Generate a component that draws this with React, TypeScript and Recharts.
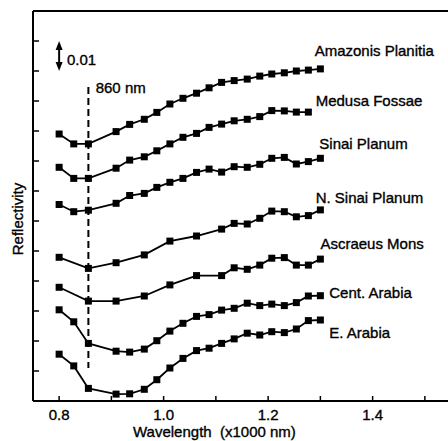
import { LineChart, Line, XAxis, YAxis, ReferenceLine, ReferenceDot, Label } from "recharts";

// wavelength in units of 1000 nm
const wavelengths = [0.8, 0.828, 0.856, 0.909, 0.935, 0.963, 0.987, 1.012, 1.037, 1.063, 1.087, 1.111, 1.135, 1.16, 1.184, 1.207, 1.231, 1.254, 1.277, 1.3];

// reflectivity (curves offset for clarity), null = no sample
const amazonis = [0.089, 0.0857, 0.0857, 0.0898, 0.0922, 0.0939, 0.0962, 0.099, 0.1009, 0.1026, 0.1044, 0.1062, 0.1068, 0.1073, 0.1083, 0.109, 0.1094, 0.11, 0.1103, 0.1107];
const medusa = [0.0779, 0.0742, 0.0742, 0.0776, 0.0803, 0.0814, 0.0834, 0.0857, 0.0879, 0.0892, 0.0912, 0.0923, 0.0934, 0.0939, 0.0948, 0.0968, 0.0967, 0.0963, 0.0963, null];
const sinai = [0.0655, 0.0631, 0.0636, 0.0659, 0.0685, 0.0692, 0.0712, 0.0729, 0.0742, 0.0762, 0.0773, 0.0763, 0.0781, 0.0779, 0.0789, 0.0809, 0.0812, 0.079, 0.0798, 0.0809];
const nSinai = [0.0479, null, 0.0442, 0.0461, null, 0.0487, null, 0.0533, null, 0.055, null, 0.0573, 0.0592, 0.059, 0.0609, 0.0633, 0.0631, 0.0614, 0.0618, 0.0637];
const ascraeus = [0.0379, null, 0.0333, 0.0333, null, 0.035, null, 0.0387, null, 0.0418, null, 0.0418, 0.0444, 0.0439, 0.0453, 0.0476, 0.0478, 0.0453, 0.0453, 0.0473];
const centArabia = [0.0304, 0.0264, 0.0192, 0.0166, 0.0163, 0.0173, 0.0201, 0.0233, 0.0259, 0.0282, 0.0288, 0.0303, 0.0309, 0.0326, 0.0318, 0.0323, 0.0318, 0.0328, 0.035, 0.0351];
const eArabia = [0.0156, 0.0117, 0.0042, 0.0023, 0.0024, 0.0039, 0.0071, 0.011, 0.0142, 0.0168, 0.0176, 0.0192, 0.0207, 0.0226, 0.022, 0.0231, 0.0228, 0.024, 0.0268, 0.027];

const seriesKeys = ["amazonis", "medusa", "sinai", "nSinai", "ascraeus", "centArabia", "eArabia"];
const seriesNames = ["Amazonis Planitia", "Medusa Fossae", "Sinai Planum", "N. Sinai Planum", "Ascraeus Mons", "Cent. Arabia", "E. Arabia"];
const seriesValues = [amazonis, medusa, sinai, nSinai, ascraeus, centArabia, eArabia];

const xTicks = [0.8, 0.9, 1.0, 1.1, 1.2, 1.3, 1.4, 1.5];
const xTickLabels = ["0.8", "1.0", "1.2", "1.4"];
const yTicks = [0.01, 0.02, 0.03, 0.04, 0.05, 0.06, 0.07, 0.08, 0.09, 0.1, 0.11, 0.12, 0.13];

// where each name sits, in data coordinates
const nameAnchors = [
  [1.289, 0.1168],
  [1.291, 0.1002],
  [1.298, 0.0857],
  [1.291, 0.0678],
  [1.3, 0.0523],
  [1.317, 0.0361],
  [1.317, 0.0227],
];

const rows = wavelengths.map((w, i) => {
  const row: any = { w };
  seriesKeys.forEach((k, s) => (row[k] = seriesValues[s][i]));
  return row;
});

const FONT = "'Liberation Sans', Arial, Helvetica, sans-serif";
const INK = "#000";
const textStyle = { fontFamily: FONT, fontSize: 15, fill: INK, stroke: INK, strokeWidth: 0.35 };

const XTick = (props: any) => {
  const { x, y, payload } = props;
  const txt = payload.value.toFixed(1);
  return (
    <g>
      <line x1={x} y1={y} x2={x} y2={y - 5} stroke={INK} strokeWidth={1.5} />
      {xTickLabels.includes(txt) && (
        <text x={x} y={y + 19} textAnchor="middle" {...textStyle}>
          {txt}
        </text>
      )}
    </g>
  );
};

const YTick = (props: any) => {
  const { x, y } = props;
  return <line x1={x} y1={y} x2={x + 6} y2={y} stroke={INK} strokeWidth={1.5} />;
};

const square = (props: any) => {
  const { cx, cy, index, dataKey } = props;
  if (cx == null || cy == null) return <g key={`${dataKey}-${index}`} />;
  return <rect key={`${dataKey}-${index}`} x={cx - 3.5} y={cy - 3.5} width={7} height={7} fill={INK} />;
};

const DoubleArrow = (props: any) => {
  const { x1, y1, y2 } = props;
  const top = Math.min(y1, y2);
  const bot = Math.max(y1, y2);
  return (
    <g>
      <line x1={x1} y1={top + 6} x2={x1} y2={bot - 6} stroke={INK} strokeWidth={2} />
      <path d={`M${x1 - 3.5},${top + 9} L${x1},${top} L${x1 + 3.5},${top + 9} Z`} fill={INK} />
      <path d={`M${x1 - 3.5},${bot - 9} L${x1},${bot} L${x1 + 3.5},${bot - 9} Z`} fill={INK} />
    </g>
  );
};

export default function App() {
  return (
    <div style={{ position: "absolute", left: 0, top: 0, width: 448, height: 441, overflow: "hidden", background: "#fff" }}>
      <LineChart width={451} height={441} data={rows} margin={{ top: 11, right: 0, bottom: 0, left: 0 }}>
        <XAxis
          dataKey="w"
          type="number"
          domain={[0.75, 1.55]}
          ticks={xTicks}
          allowDataOverflow
          height={40}
          tickSize={0}
          tickMargin={0}
          tickLine={false}
          tick={<XTick />}
          axisLine={{ stroke: INK, strokeWidth: 2 }}
        >
          <Label
            content={() => (
              <text x={133} y={437} {...textStyle}>
                {"Wavelength\u00a0\u00a0(x1000 nm)"}
              </text>
            )}
          />
        </XAxis>
        <YAxis
          type="number"
          domain={[0, 0.13]}
          ticks={yTicks}
          allowDataOverflow
          width={33}
          tickSize={0}
          tickMargin={0}
          tickLine={false}
          tick={<YTick />}
          axisLine={{ stroke: INK, strokeWidth: 2 }}
        >
          <Label
            content={() => (
              <text transform="translate(23,219) rotate(-90)" textAnchor="middle" {...textStyle}>
                Reflectivity
              </text>
            )}
          />
        </YAxis>

        <ReferenceLine y={0.13} stroke={INK} strokeWidth={2} />
        <ReferenceLine
          segment={[
            { x: 0.856, y: 0.1047 },
            { x: 0.856, y: 0.011 },
          ]}
          stroke={INK}
          strokeWidth={2}
          strokeDasharray="7 4"
        />
        <ReferenceLine
          segment={[
            { x: 0.8, y: 0.12 },
            { x: 0.8, y: 0.11 },
          ]}
          shape={<DoubleArrow />}
        />
        <ReferenceDot x={0.815} y={0.1137} r={0} fill="none" stroke="none">
          <Label value="0.01" position="right" offset={0} {...textStyle} />
        </ReferenceDot>
        <ReferenceDot x={0.87} y={0.1043} r={0} fill="none" stroke="none">
          <Label value="860 nm" position="right" offset={0} {...textStyle} />
        </ReferenceDot>

        {seriesKeys.map((k) => (
          <Line
            key={k}
            dataKey={k}
            type="linear"
            stroke={INK}
            strokeWidth={1.8}
            connectNulls
            dot={square}
            activeDot={false}
            isAnimationActive={false}
          />
        ))}

        {seriesNames.map((name, i) => (
          <ReferenceDot key={name} x={nameAnchors[i][0]} y={nameAnchors[i][1]} r={0} fill="none" stroke="none">
            <Label value={name} position="right" offset={0} {...textStyle} />
          </ReferenceDot>
        ))}
      </LineChart>
    </div>
  );
}
